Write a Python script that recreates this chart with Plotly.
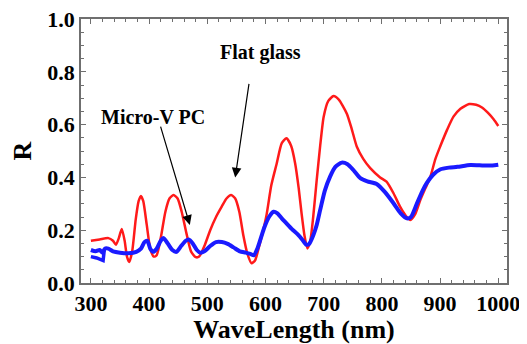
import plotly.graph_objects as go

# Flat glass (red)
red_x = [300, 315, 330, 338, 343, 348, 353, 358, 362, 366, 371, 377, 382, 386, 390, 396, 402, 408, 413,
         420, 428, 435, 442, 449, 456, 464, 472, 480, 486, 495, 505, 515, 525, 533, 541, 548, 555, 562,
         569, 576, 582, 588, 595, 602, 610, 619, 628, 636, 644, 651, 657, 662, 667, 672, 677, 682, 688,
         694, 700, 708, 717, 726, 733, 740, 748, 757, 768, 780, 797, 808, 820, 831, 841, 849, 857, 866,
         875, 883, 892, 900, 912, 923, 935, 950, 962, 972, 982, 992, 1000]
red_y = [0.16, 0.165, 0.17, 0.16, 0.145, 0.17, 0.205, 0.16, 0.10, 0.08, 0.12, 0.24, 0.31, 0.33, 0.31, 0.22,
         0.13, 0.10, 0.105, 0.17, 0.27, 0.32, 0.333, 0.32, 0.27, 0.19, 0.12, 0.098, 0.10, 0.14, 0.20, 0.25,
         0.29, 0.32, 0.333, 0.32, 0.27, 0.18, 0.11, 0.075, 0.085, 0.13, 0.19, 0.26, 0.37, 0.45, 0.53, 0.548,
         0.52, 0.453, 0.36, 0.264, 0.18, 0.131, 0.16, 0.25, 0.39, 0.52, 0.63, 0.69, 0.708, 0.695, 0.67,
         0.64, 0.585, 0.516, 0.47, 0.435, 0.40, 0.384, 0.34, 0.29, 0.255, 0.239, 0.26, 0.314, 0.36, 0.40,
         0.47, 0.516, 0.58, 0.63, 0.66, 0.678, 0.675, 0.665, 0.645, 0.62, 0.595]

# Micro-V PC (blue)
blue_x = [300, 308, 315, 320, 324, 330, 338, 350, 365, 378, 386, 392, 397, 402, 407, 413, 420, 425, 432,
          440, 447, 455, 463, 468, 475, 482, 488, 495, 505, 515, 525, 535, 545, 556, 566, 574, 580, 586,
          592, 598, 606, 614, 620, 628, 636, 645, 655, 663, 670, 675, 682, 688, 694, 702, 711, 720, 731,
          741, 751, 763, 775, 791, 805, 820, 832, 843, 850, 860, 870, 877, 888, 900, 915, 930, 952, 975,
          990, 1000]
blue_y = [0.125, 0.12, 0.125, 0.115, 0.13, 0.13, 0.12, 0.115, 0.113, 0.118, 0.13, 0.155, 0.16, 0.13,
          0.118, 0.13, 0.16, 0.17, 0.15, 0.125, 0.118, 0.14, 0.16, 0.165, 0.15, 0.125, 0.115, 0.12, 0.14,
          0.155, 0.155, 0.148, 0.135, 0.12, 0.115, 0.11, 0.105, 0.13, 0.17, 0.21, 0.25, 0.27, 0.265, 0.245,
          0.226, 0.205, 0.185, 0.165, 0.145, 0.148, 0.18, 0.22, 0.277, 0.35, 0.403, 0.44, 0.456, 0.45,
          0.428, 0.397, 0.385, 0.375, 0.345, 0.302, 0.265, 0.245, 0.25, 0.30, 0.35, 0.378, 0.41, 0.43,
          0.437, 0.44, 0.447, 0.445, 0.445, 0.448]

# short second blue scan at the start
blue2_x = [300, 310, 321, 323]
blue2_y = [0.10, 0.095, 0.085, 0.125]

x_ticks = [300, 400, 500, 600, 700, 800, 900, 1000]
y_ticks = [0.0, 0.2, 0.4, 0.6, 0.8, 1.0]

SERIF = "Liberation Serif"
AXC = "#6f6f6f"

fig = go.Figure()
fig.add_trace(go.Scatter(x=red_x, y=red_y, mode="lines", line=dict(color="#ff1a1a", width=2.5, shape="spline", smoothing=0.6),
                         showlegend=False))
fig.add_trace(go.Scatter(x=blue_x, y=blue_y, mode="lines", line=dict(color="#1a1aff", width=4, shape="spline", smoothing=0.6),
                         showlegend=False))
fig.add_trace(go.Scatter(x=blue2_x, y=blue2_y, mode="lines", line=dict(color="#1a1aff", width=3.5),
                         showlegend=False))

tickfont = dict(family=SERIF, size=22, color="black", weight="bold")
fig.update_xaxes(range=[283, 1015], tickvals=x_ticks, ticks="inside", ticklen=5, tickcolor=AXC, tickwidth=1.2,
                 showline=True, linecolor=AXC, linewidth=1.5, mirror="ticks", showgrid=False, zeroline=False,
                 automargin=False, ticklabeloverflow="allow",
                 minor=dict(dtick=20, tick0=300, ticks="inside", ticklen=3, tickcolor=AXC, showgrid=False),
                 tickfont=tickfont,
                 title=dict(text="WaveLength (nm)", font=dict(family=SERIF, size=26, color="black", weight="bold"), standoff=12))
fig.update_yaxes(range=[0, 1], tickvals=y_ticks, tickformat=".1f", ticks="inside", ticklen=5, tickcolor=AXC, tickwidth=1.2,
                 showline=True, linecolor=AXC, linewidth=1.5, mirror="ticks", showgrid=False, zeroline=False,
                 automargin=False, ticklabeloverflow="allow",
                 minor=dict(dtick=0.05, tick0=0, ticks="inside", ticklen=3, tickcolor=AXC, showgrid=False),
                 tickfont=tickfont,
                 title=dict(text="R", font=dict(family=SERIF, size=26, color="black", weight="bold"), standoff=8))

annfont = dict(family=SERIF, size=20, color="black", weight="bold")
fig.add_annotation(x=592, y=0.875, xref="x", yref="y", text="Flat glass", showarrow=False, font=annfont)
fig.add_annotation(x=406, y=0.63, xref="x", yref="y", text="Micro-V PC", showarrow=False, font=annfont)
fig.add_annotation(x=548, y=0.40, ax=572, ay=0.76, xref="x", yref="y", axref="x", ayref="y", text="",
                   showarrow=True, arrowhead=2, arrowsize=1.6, arrowwidth=1.2, arrowcolor="black")
fig.add_annotation(x=470, y=0.22, ax=419, ay=0.598, xref="x", yref="y", axref="x", ayref="y", text="",
                   showarrow=True, arrowhead=2, arrowsize=1.6, arrowwidth=1.2, arrowcolor="black")

# page body has an 8px margin, so the figure is shrunk to keep the plot area where the reference has it
fig.update_layout(width=519, height=336, margin=dict(l=73, r=20, t=11, b=61),
                  paper_bgcolor="white", plot_bgcolor="white")

fig.write_html("out.html")
